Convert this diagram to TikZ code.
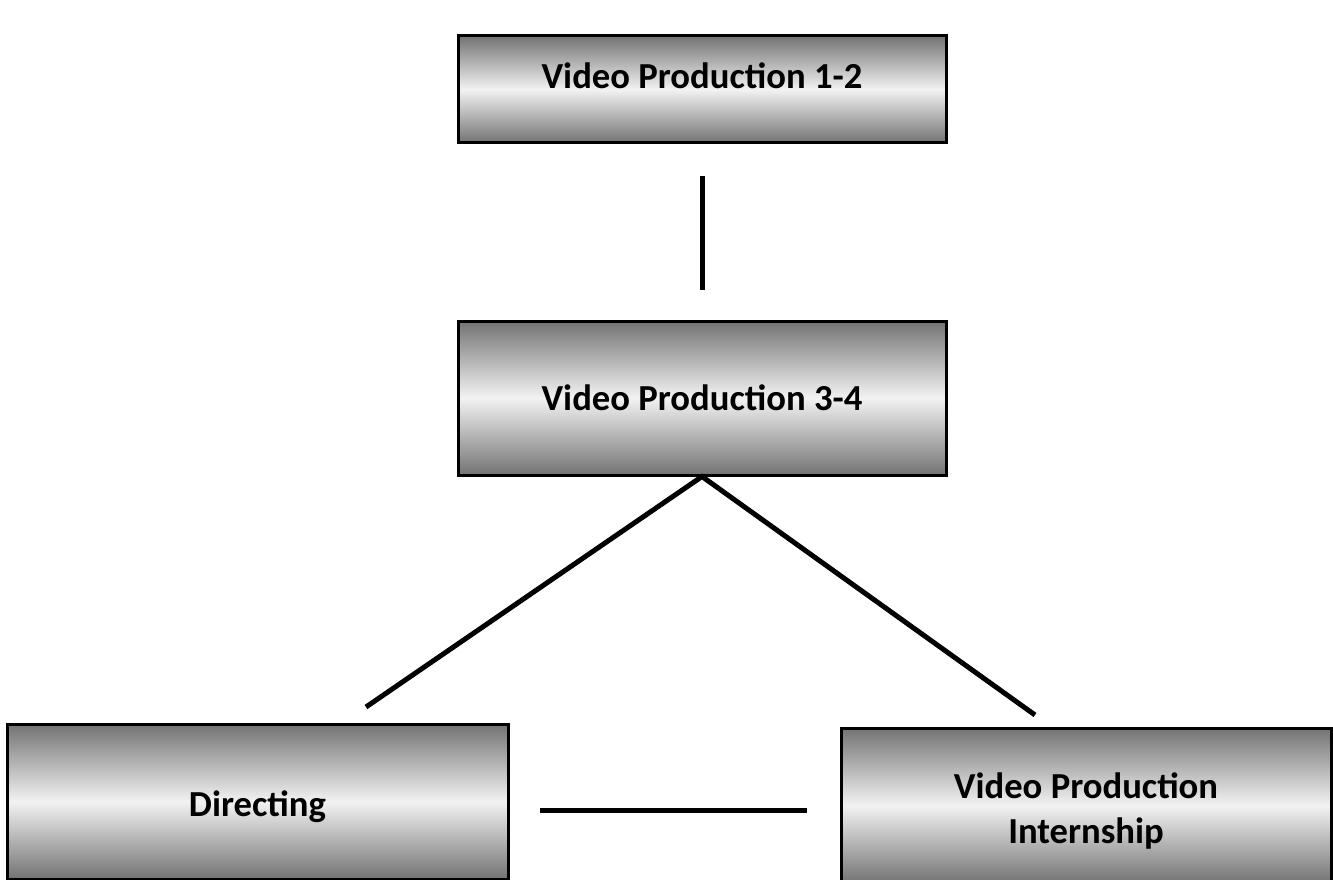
\documentclass[tikz,border=0pt]{standalone}
\usepackage{fontspec}
\setmainfont{Carlito}
\usepackage{tikz}
\usetikzlibrary{calc}
\usetikzlibrary{positioning}
\tikzset{
  course/.style = {draw=black, line width=2.25pt, inner sep=0pt, align=center,
    top color=black!55, bottom color=black!55, middle color=black!5,
    font=\fontsize{27.5}{34}\selectfont\bfseries},
  link/.style = {draw=black, line width=3.75pt},
}
\begin{document}
\begin{tikzpicture}[x=0.75pt,y=-0.75pt]
\useasboundingbox (0,0) rectangle (1333,880);
\node [course, minimum width=366pt, minimum height=80.25pt, text height=10pt, text depth=11.8pt] (vp12) at (702,89.5) {Video Production 1-2};
\node [course, minimum width=366pt, minimum height=115.5pt] (vp34) at (702,398) {Video Production 3-4};
\node [course, minimum width=375.75pt, minimum height=116.25pt, text height=23pt, text depth=0pt] (dir) at (257.5,801.5) {Directing};
\node [course, minimum width=367.5pt, minimum height=116.25pt, text height=61.5pt] (intern) at (1086,805.5) {Video Production\\Internship};
% free line ends
\coordinate (dl) at (366,707);
\coordinate (dr) at (1035,715);
\coordinate (hl) at (540,810);
\coordinate (hr) at (807,810);
\draw [link, shorten <=24pt, shorten >=22pt] (vp12) -- (vp34);
\draw [link] (dl) -- (vp34.south) -- (dr);
\draw [link] (hl) -- (hr);
\end{tikzpicture}
\end{document}
